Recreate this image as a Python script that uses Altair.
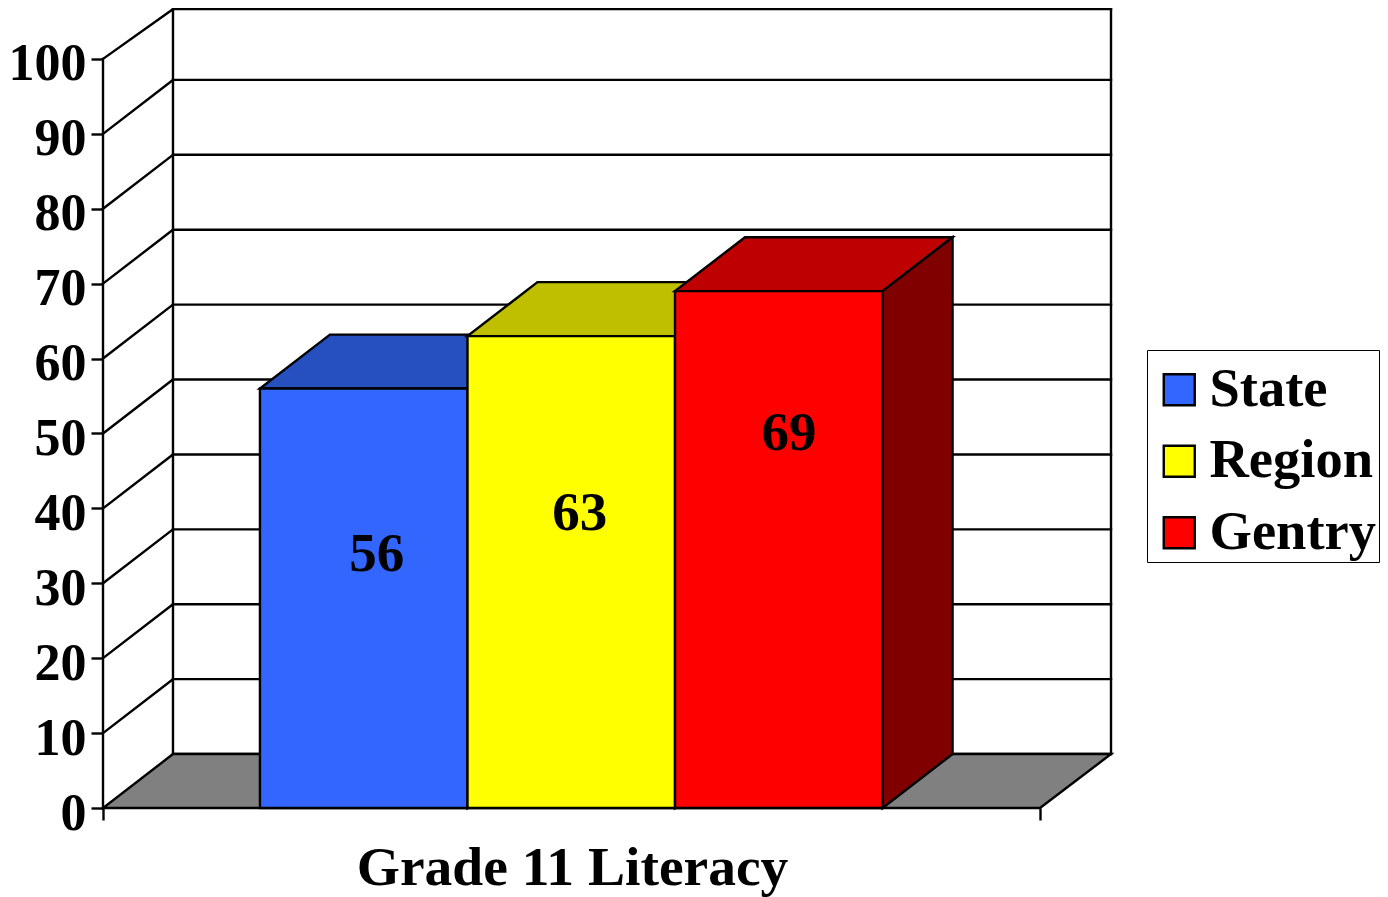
import altair as alt
import pandas as pd

names = ["State", "Region", "Gentry"]
values = [56, 63, 69]
front_colors = ["#3366FF", "#FFFF00", "#FF0000"]
top_colors = ["#2650C0", "#BFBF00", "#BF0000"]
side_colors = ["#1A3380", "#808000", "#800000"]
ticks = [0, 10, 20, 30, 40, 50, 60, 70, 80, 90, 100]
label_heights = [33.9, 39.4, 50]
label_shifts = [0.014, 0.009, 0.011]

DX = 0.0747
DY = 7.2
RIGHT = 1.0758
TOP = 106.8
WALL_TOP = 106.65
BAR = 0.2215
START = 0.1675
LW = 2.4
FONT = "Liberation Serif"

xs = alt.Scale(domain=[0, RIGHT], nice=False, zero=False)
ys = alt.Scale(domain=[0, TOP], nice=False, zero=False)
x_axis = alt.Axis(values=[0, 1], domain=False, grid=False, labels=False, tickSize=12,
                  tickWidth=LW, tickColor="black", title="Grade 11 Literacy",
                  titleFont=FONT, titleFontSize=55.5, titleFontWeight="bold", titleColor="black",
                  titleX=469, titleY=76, titleAlign="center", titleBaseline="alphabetic")
y_axis = alt.Axis(values=ticks, domain=False, grid=False, tickSize=12, tickWidth=LW,
                  tickColor="black", title=None, labelFont=FONT, labelFontSize=52,
                  labelFontWeight="bold", labelColor="black", labelPadding=5, labelOffset=5,
                  format="d", labelOverlap=False, labelBound=False, labelFlush=False)
X = alt.X("x:Q", scale=xs, axis=x_axis)
Y = alt.Y("y:Q", scale=ys, axis=y_axis)

# back wall and left wall lines
lines = []
for i, t in enumerate(ticks):
    wall_y = min(t + DY, WALL_TOP)
    lines += [dict(g=f"h{i}", x=DX, y=wall_y), dict(g=f"h{i}", x=RIGHT, y=wall_y)]
    if t > 0:
        lines += [dict(g=f"s{i}", x=0, y=t), dict(g=f"s{i}", x=DX, y=wall_y)]
lines += [dict(g="v0", x=DX, y=DY), dict(g="v0", x=DX, y=WALL_TOP)]
lines += [dict(g="v1", x=RIGHT, y=DY), dict(g="v1", x=RIGHT, y=WALL_TOP)]
lines += [dict(g="v2", x=0, y=0), dict(g="v2", x=0, y=100)]
walls = alt.Chart(pd.DataFrame(lines)).mark_line(color="black", strokeWidth=LW, strokeCap="square").encode(
    x=X, y=Y, detail="g:N",
)

floor = alt.Chart(pd.DataFrame([dict(y=0, x=0, x2=1), dict(y=DY, x=DX, x2=RIGHT)])).mark_area(
    orient="horizontal", color="#808080", stroke="black", strokeWidth=LW
).encode(x=X, x2="x2:Q", y=Y)

legend = alt.Legend(orient="none", legendX=1044, legendY=342, title=" ", titleFontSize=1,
                    titlePadding=9, fillColor="white",
                    strokeColor="black", padding=2.5, symbolType="square", symbolSize=961,
                    symbolStrokeColor="black", symbolStrokeWidth=LW, symbolOffset=2.5,
                    labelFont=FONT, labelFontSize=54.5, labelFontWeight="bold", labelColor="black",
                    labelOffset=3, rowPadding=16.5, labelLimit=400)

layers = [walls, floor]
for i, name in enumerate(names):
    v = values[i]
    left = START + i * BAR
    right = left + BAR
    top = alt.Chart(pd.DataFrame([dict(y=v, x=left, x2=right),
                                  dict(y=v + DY, x=left + DX, x2=right + DX)])).mark_area(
        orient="horizontal", color=top_colors[i], stroke="black", strokeWidth=LW
    ).encode(x=X, x2="x2:Q", y=Y)
    side = alt.Chart(pd.DataFrame([dict(x=right, y=v, y2=0),
                                   dict(x=right + DX, y=v + DY, y2=DY)])).mark_area(
        color=side_colors[i], stroke="black", strokeWidth=LW
    ).encode(x=X, y=Y, y2="y2:Q")
    front = alt.Chart(pd.DataFrame([dict(name=name, x=left, x2=right, y=v, y2=0)])).mark_rect(
        stroke="black", strokeWidth=LW
    ).encode(
        x=X, x2="x2:Q", y=Y, y2="y2:Q",
        color=alt.Color("name:N", sort=None, legend=legend,
                        scale=alt.Scale(domain=names, range=front_colors)),
    )
    layers += [top, side, front]

labels = pd.DataFrame({
    "t": [str(v) for v in values],
    "x": [START + (i + 0.5) * BAR + label_shifts[i] for i in range(3)],
    "y": label_heights,
})
text = alt.Chart(labels).mark_text(font=FONT, fontSize=55, fontWeight="bold", color="black",
                                   baseline="middle", align="center").encode(
    x=X, y=Y, text="t:N")
layers.append(text)

chart = alt.layer(*layers).properties(
    width=1008, height=800,
    padding={"left": 95, "top": 0, "right": 269, "bottom": 89},
    autosize=alt.AutoSizeParams(type="none"),
    background="white",
).configure_view(stroke=None)

chart.save("out.html", embed_options={"renderer": "svg", "actions": False})
